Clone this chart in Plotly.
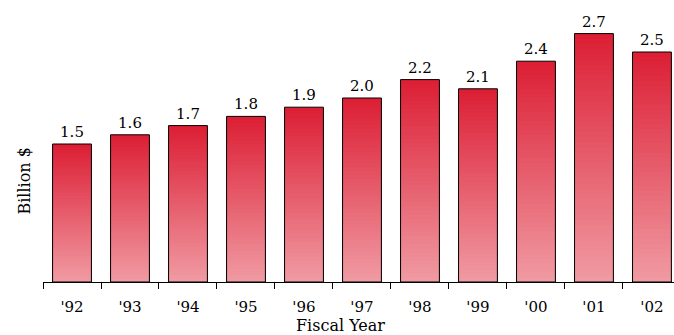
import plotly.graph_objects as go

years = ["'92", "'93", "'94", "'95", "'96", "'97", "'98", "'99", "'00", "'01", "'02"]
values = [1.5, 1.6, 1.7, 1.8, 1.9, 2.0, 2.2, 2.1, 2.4, 2.7, 2.5]
labels = ["1.5", "1.6", "1.7", "1.8", "1.9", "2.0", "2.2", "2.1", "2.4", "2.7", "2.5"]

FONT = "DejaVu Serif"
top_rgb = (220, 30, 52)
bot_rgb = (240, 155, 163)
N = 48
BW = 0.67

fig = go.Figure()
for i in range(N - 1, -1, -1):
    t = (i + 0.5) / N  # 0 bottom -> 1 top
    c = tuple(round(bot_rgb[k] + (top_rgb[k] - bot_rgb[k]) * t) for k in range(3))
    fig.add_trace(go.Bar(
        x=years, y=[v * (i + 1) / N for v in values],
        marker=dict(color="rgb(%d,%d,%d)" % c, line=dict(width=0)),
        width=BW, showlegend=False, hoverinfo="skip"))

fig.add_trace(go.Bar(
    x=years, y=values, text=labels, textposition="outside",
    textfont=dict(family=FONT, size=15, color="black"), cliponaxis=False,
    marker=dict(color="rgba(0,0,0,0)", line=dict(color="black", width=1)),
    width=BW, showlegend=False))

fig.update_layout(
    width=674, height=335, barmode="overlay",
    margin=dict(l=43, r=0, t=0, b=53),
    plot_bgcolor="white", paper_bgcolor="white",
    font=dict(family=FONT, size=15, color="black"),
    xaxis=dict(type="category", range=[-0.5, 10.38], showline=True, linecolor="black",
               linewidth=1, ticks="outside", tickson="boundaries", ticklen=6,
               tickcolor="black", tickfont=dict(family=FONT, size=15), showgrid=False,
               ticklabelstandoff=11),
    yaxis=dict(range=[0, 282 / 92], visible=False),
    annotations=[
        dict(text="Fiscal Year", xref="paper", yref="paper", x=(340 - 43) / 631, y=0,
             yshift=-55, showarrow=False, font=dict(family=FONT, size=16)),
        dict(text="Billion $", xref="paper", yref="paper", x=0, y=(282 - 181) / 282,
             xshift=-31, textangle=-90, showarrow=False, font=dict(family=FONT, size=16)),
    ],
)
fig.write_html("out.html", config={"displayModeBar": False},
               post_script="document.body.style.margin='0';")
